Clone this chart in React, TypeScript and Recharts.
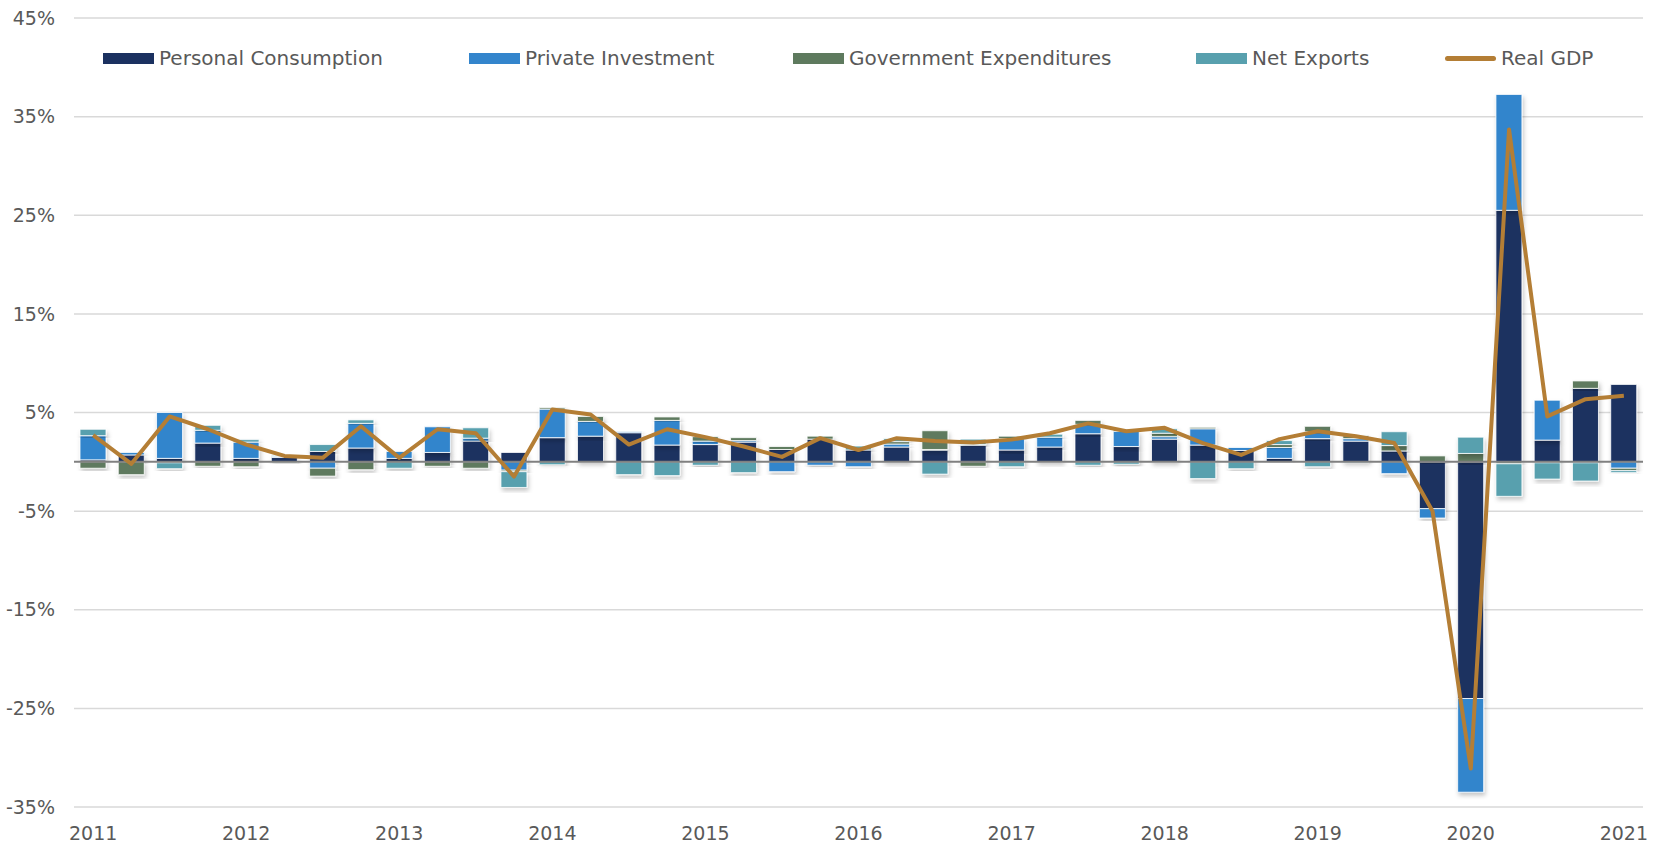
import {
  ComposedChart,
  Bar,
  Line,
  XAxis,
  YAxis,
  CartesianGrid,
  ReferenceLine,
  Legend,
} from 'recharts';

const quarters = [
  '2011Q2', '2011Q3', '2011Q4', '2012Q1', '2012Q2', '2012Q3', '2012Q4',
  '2013Q1', '2013Q2', '2013Q3', '2013Q4', '2014Q1', '2014Q2', '2014Q3',
  '2014Q4', '2015Q1', '2015Q2', '2015Q3', '2015Q4', '2016Q1', '2016Q2',
  '2016Q3', '2016Q4', '2017Q1', '2017Q2', '2017Q3', '2017Q4', '2018Q1',
  '2018Q2', '2018Q3', '2018Q4', '2019Q1', '2019Q2', '2019Q3', '2019Q4',
  '2020Q1', '2020Q2', '2020Q3', '2020Q4', '2021Q1', '2021Q2',
];

const personalConsumption = [
  0.2, 0.7, 0.35, 1.9, 0.35, 0.45, 1.05, 1.4, 0.35, 0.95, 2.1, 0.95, 2.45,
  2.6, 2.95, 1.7, 1.75, 2.0, 1.25, 2.3, 1.2, 1.5, 1.15, 1.65, 1.2, 1.5, 2.85,
  1.55, 2.3, 1.7, 1.15, 0.35, 2.35, 2.1, 1.1, -4.75, -24.0, 25.5, 2.2, 7.45,
  7.85,
];

const privateInvestment = [
  2.45, 0.25, 4.65, 1.3, 1.65, 0.1, -0.65, 2.5, 0.7, 2.6, 0.3, -0.85, 2.9,
  1.5, 0.1, 2.5, 0.35, 0.15, -1.0, -0.35, -0.5, 0.3, 0.1, 0.1, 1.15, 1.0,
  0.95, 1.55, 0.25, 1.65, 0.3, 1.1, 0.7, 0.25, -1.2, -0.95, -9.5, 11.75, 4.05,
  -0.1, -0.65,
];

const government = [
  -0.65, -1.3, -0.1, -0.45, -0.5, -0.1, -0.8, -0.8, 0, -0.45, -0.65, -0.15,
  0.15, 0.5, 0, 0.35, 0.45, 0.3, 0.3, 0.3, 0, 0.25, 1.9, -0.45, 0.25, 0, 0.4,
  0.2, 0.35, 0.15, 0, 0.3, 0.55, 0.3, 0.55, 0.6, 0.85, -0.2, -0.1, 0.75,
  -0.25,
];

const netExports = [
  0.65, 0, -0.6, 0.5, 0.25, 0.1, 0.7, 0.35, -0.65, 0, 1.05, -1.6, -0.3, 0,
  -1.3, -1.4, -0.35, -1.1, 0, 0, 0.4, 0.3, -1.25, 0.55, -0.5, 0.3, -0.35,
  -0.25, 0.45, -1.7, -0.7, 0.4, -0.5, -0.1, 1.4, 0, 1.65, -3.3, -1.65, -1.85,
  -0.2,
];

const realGdp = [
  2.7, -0.2, 4.6, 3.3, 1.75, 0.6, 0.4, 3.6, 0.4, 3.3, 2.9, -1.5, 5.3, 4.8,
  1.75, 3.3, 2.5, 1.55, 0.5, 2.4, 1.2, 2.4, 2.1, 1.95, 2.25, 2.9, 3.9, 3.1,
  3.45, 1.9, 0.7, 2.3, 3.1, 2.6, 1.9, -5.0, -31.1, 33.7, 4.6, 6.35, 6.7,
];

const yTicks = [-35, -25, -15, -5, 5, 15, 25, 35, 45];

const FONT = '"DejaVu Sans", sans-serif';
const TEXT = '#595959';

// legend slot width per item, so the swatches line up with the original
const barSeries = [
  { key: 'pc', name: 'Personal Consumption', color: '#1B3160', slot: 366 },
  { key: 'pi', name: 'Private Investment', color: '#3385CC', slot: 324 },
  { key: 'gov', name: 'Government Expenditures', color: '#5E7A5E', slot: 403 },
  { key: 'nx', name: 'Net Exports', color: '#58A0AE', slot: 249 },
];
const lineSeries = { key: 'gdp', name: 'Real GDP', color: '#B47E35' };

const data = quarters.map((q, i) => ({
  q,
  pc: personalConsumption[i],
  pi: privateInvestment[i],
  gov: government[i],
  nx: netExports[i],
  gdp: realGdp[i],
}));

const renderLegend = () => (
  <div
    style={{
      display: 'flex',
      alignItems: 'center',
      paddingLeft: 29,
      fontFamily: FONT,
      fontSize: 20,
      color: TEXT,
      whiteSpace: 'nowrap',
    }}
  >
    {barSeries.map((s) => (
      <div key={s.key} style={{ display: 'flex', alignItems: 'center', gap: 5, width: s.slot }}>
        <span style={{ display: 'inline-block', width: 51, height: 11, background: s.color }} />
        <span>{s.name}</span>
      </div>
    ))}
    <div style={{ display: 'flex', alignItems: 'center', gap: 5 }}>
      <span
        style={{
          display: 'inline-block',
          width: 51,
          height: 5,
          borderRadius: 3,
          background: lineSeries.color,
        }}
      />
      <span>{lineSeries.name}</span>
    </div>
  </div>
);

export default function App() {
  return (
    <div style={{ position: 'absolute', left: 0, top: 0, width: 1658, height: 846, background: '#fff' }}>
      <ComposedChart
        width={1658}
        height={846}
        data={data}
        stackOffset="sign"
        margin={{ top: 18, right: 15, bottom: 9, left: 0 }}
      >
        <defs>
          <filter id="barShadow" x="-30%" y="-30%" width="160%" height="160%">
            <feDropShadow dx="1.5" dy="3" stdDeviation="2" floodColor="#000" floodOpacity="0.22" />
          </filter>
        </defs>
        <CartesianGrid vertical={false} stroke="#D9D9D9" strokeWidth={1.5} />
        <XAxis
          dataKey="q"
          interval={3}
          height={30}
          tickSize={0}
          tickMargin={20}
          axisLine={false}
          tickLine={false}
          tickFormatter={(q: string) => q.slice(0, 4)}
          tick={{ fill: TEXT, fontFamily: FONT, fontSize: 19 }}
        />
        <YAxis
          width={74}
          domain={[-35, 45]}
          ticks={yTicks}
          allowDataOverflow
          tickSize={0}
          tickMargin={19}
          axisLine={false}
          tickLine={false}
          tickFormatter={(v: number) => `${v}%`}
          tick={{ fill: TEXT, fontFamily: FONT, fontSize: 19 }}
        />
        <Legend
          layout="horizontal"
          verticalAlign="middle"
          align="center"
          wrapperStyle={{ top: 46, left: 74, width: 1569 }}
          content={renderLegend}
        />
        <ReferenceLine y={0} stroke="#808080" strokeWidth={2} />
        {barSeries.map((s) => (
          <Bar
            key={s.key}
            dataKey={s.key}
            name={s.name}
            stackId="a"
            fill={s.color}
            stroke="#ffffff"
            strokeWidth={0.8}
            barSize={26}
            filter="url(#barShadow)"
            isAnimationActive={false}
          />
        ))}
        <Line
          type="linear"
          dataKey={lineSeries.key}
          name={lineSeries.name}
          stroke={lineSeries.color}
          strokeWidth={4}
          strokeLinejoin="round"
          dot={false}
          activeDot={false}
          isAnimationActive={false}
        />
      </ComposedChart>
    </div>
  );
}
